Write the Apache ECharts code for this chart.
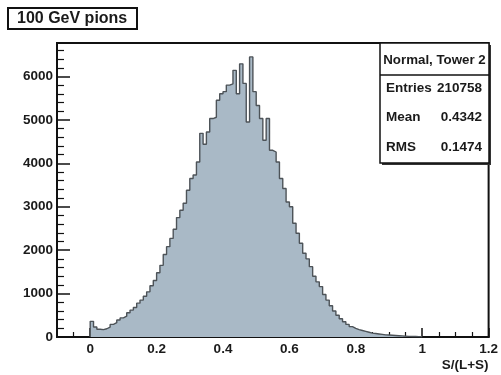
<!DOCTYPE html>
<html><head><meta charset="utf-8">
<script src="https://cdn.jsdelivr.net/npm/echarts@6/dist/echarts.min.js"></script>
<style>html,body{margin:0;padding:0;background:#fff}#c{width:501px;height:375px}</style>
</head><body><div id="c"></div>
<script>
// Histogram binning (S/(L+S)), 0.01 wide bins starting at 0
const binStart = 0.0;
const binWidth = 0.01;
const counts = [
  360, 230, 180, 170, 190, 230, 290, 330, 390, 440,
  480, 560, 620, 680, 780, 850, 940, 1040, 1180, 1300,
  1480, 1650, 1900, 2080, 2270, 2480, 2750, 2920, 3080, 3380,
  3650, 3730, 4030, 4690, 4440, 4720, 5030, 5060, 5450, 5600,
  5650, 5800, 5830, 6140, 5600, 6290, 5840, 4950, 6450, 5650,
  5330, 5030, 4530, 5030, 4300, 4260, 4030, 3650, 3420, 3110,
  3000, 2620, 2390, 2160, 1930, 1800, 1620, 1400, 1270, 1160,
  980, 850, 720, 600, 500, 420, 350, 290, 240, 200,
  170, 150, 130, 110, 90, 80, 70, 60, 50, 45,
  40, 35, 30, 25, 20, 15, 12, 10, 8, 6
];
const xMajorTicks = [0, 0.2, 0.4, 0.6, 0.8, 1, 1.2];
const xMinorTicks = [-0.05, 0.05, 0.1, 0.15, 0.25, 0.3, 0.35, 0.45, 0.5, 0.55, 0.65, 0.7, 0.75, 0.85, 0.9, 0.95, 1.05, 1.1, 1.15];
const yMajorTicks = [0, 1000, 2000, 3000, 4000, 5000, 6000];
const yMinorTicks = [200, 400, 600, 800, 1200, 1400, 1600, 1800, 2200, 2400, 2600, 2800, 3200, 3400, 3600, 3800, 4200, 4400, 4600, 4800, 5200, 5400, 5600, 5800, 6200, 6400, 6600];
const titleText = "100 GeV pions";
const statsHeader = "Normal, Tower 2";
const statsLabels = ["Entries", "Mean", "RMS"];
const statsValues = ["210758", "0.4342", "0.1474"];
const xTitle = "S/(L+S)";

const pts = [[binStart, 0]];
counts.forEach((c, i) => pts.push([+(binStart + i * binWidth).toFixed(4), c]));
pts.push([+(binStart + counts.length * binWidth).toFixed(4), 0]);

const FONT = '"Liberation Sans", Arial, Helvetica, sans-serif';
const txt = { fontFamily: FONT, fontWeight: 'bold', color: '#1a1a1a' };

const chart = echarts.init(document.getElementById('c'), null, { renderer: 'canvas' });

const statsGraphics = [];
const boxX = 380, boxY = 43, boxW = 109, boxH = 120;
statsGraphics.push({ type: 'rect', shape: { x: boxX + 2, y: boxY + 2, width: boxW, height: boxH }, style: { fill: '#333' }, z: 100 });
statsGraphics.push({ type: 'rect', shape: { x: boxX, y: boxY, width: boxW, height: boxH }, style: { fill: '#fff', stroke: '#111', lineWidth: 1.5 }, z: 101 });
statsGraphics.push({ type: 'line', shape: { x1: boxX, y1: 75, x2: boxX + boxW, y2: 75 }, style: { stroke: '#111', lineWidth: 1.5 }, z: 102 });
statsGraphics.push({ type: 'text', x: boxX + boxW / 2, y: 60, style: { text: statsHeader, fontSize: 13.3, align: 'center', verticalAlign: 'middle', fill: '#1a1a1a', fontFamily: FONT, fontWeight: 'bold' }, z: 103 });
const rowY = [88, 117, 147];
statsLabels.forEach((l, i) => {
  statsGraphics.push({ type: 'text', x: 386, y: rowY[i], style: { text: l, fontSize: 13.5, fontFamily: FONT, fontWeight: 'bold', fill: '#1a1a1a', align: 'left', verticalAlign: 'middle' }, z: 103 });
  statsGraphics.push({ type: 'text', x: 482, y: rowY[i], style: { text: statsValues[i], fontSize: 13.5, fontFamily: FONT, fontWeight: 'bold', fill: '#1a1a1a', align: 'right', verticalAlign: 'middle' }, z: 103 });
});

const option = {
  backgroundColor: '#fff',
  animation: false,
  grid: { left: 57, right: 10, top: 43, bottom: 38, show: true, borderColor: '#111', borderWidth: 2, backgroundColor: '#fff' },
  xAxis: [
    {
      type: 'value', min: -0.1, max: 1.2, position: 'bottom',
      axisLine: { show: true, onZero: false, lineStyle: { color: '#111', width: 2 } },
      axisTick: { show: true, inside: true, length: 9, customValues: xMajorTicks, lineStyle: { color: '#111', width: 1.5 } },
      axisLabel: { customValues: xMajorTicks, margin: 5, fontSize: 13.5, formatter: v => String(v), ...txt },
      splitLine: { show: false },
      name: xTitle, nameLocation: 'end', nameGap: 0,
      nameTextStyle: { ...txt, fontSize: 13.5, align: 'right', verticalAlign: 'top', padding: [21, 0, 0, 0] }
    },
    {
      type: 'value', min: -0.1, max: 1.2, position: 'bottom',
      axisLine: { show: false, onZero: false },
      axisTick: { show: true, inside: true, length: 5, customValues: xMinorTicks, lineStyle: { color: '#111', width: 1.2 } },
      axisLabel: { show: false }, splitLine: { show: false }
    }
  ],
  yAxis: [
    {
      type: 'value', min: 0, max: 6770, position: 'left',
      axisLine: { show: true, onZero: false, lineStyle: { color: '#111', width: 2 } },
      axisTick: { show: true, inside: true, length: 13, customValues: yMajorTicks, lineStyle: { color: '#111', width: 1.5 } },
      axisLabel: { customValues: yMajorTicks, margin: 4, fontSize: 13.5, formatter: v => String(v), ...txt },
      splitLine: { show: false }
    },
    {
      type: 'value', min: 0, max: 6770, position: 'left',
      axisLine: { show: false, onZero: false },
      axisTick: { show: true, inside: true, length: 7, customValues: yMinorTicks, lineStyle: { color: '#111', width: 1.2 } },
      axisLabel: { show: false }, splitLine: { show: false }
    }
  ],
  series: [{
    type: 'line', xAxisIndex: 0, yAxisIndex: 0,
    data: pts, step: 'end', symbol: 'none',
    lineStyle: { color: '#4d5358', width: 1.4 },
    areaStyle: { color: '#a9b9c6', opacity: 1 },
    z: 2
  }],
  graphic: [
    { type: 'rect', shape: { x: 8, y: 8, width: 129, height: 21 }, style: { fill: '#fff', stroke: '#111', lineWidth: 2 }, z: 100 },
    { type: 'text', x: 17, y: 19, style: { text: titleText, fontSize: 16, fontFamily: FONT, fontWeight: 'bold', fill: '#1a1a1a', align: 'left', verticalAlign: 'middle' }, z: 101 },
    ...statsGraphics
  ]
};
chart.setOption(option);
</script>
</body></html>
